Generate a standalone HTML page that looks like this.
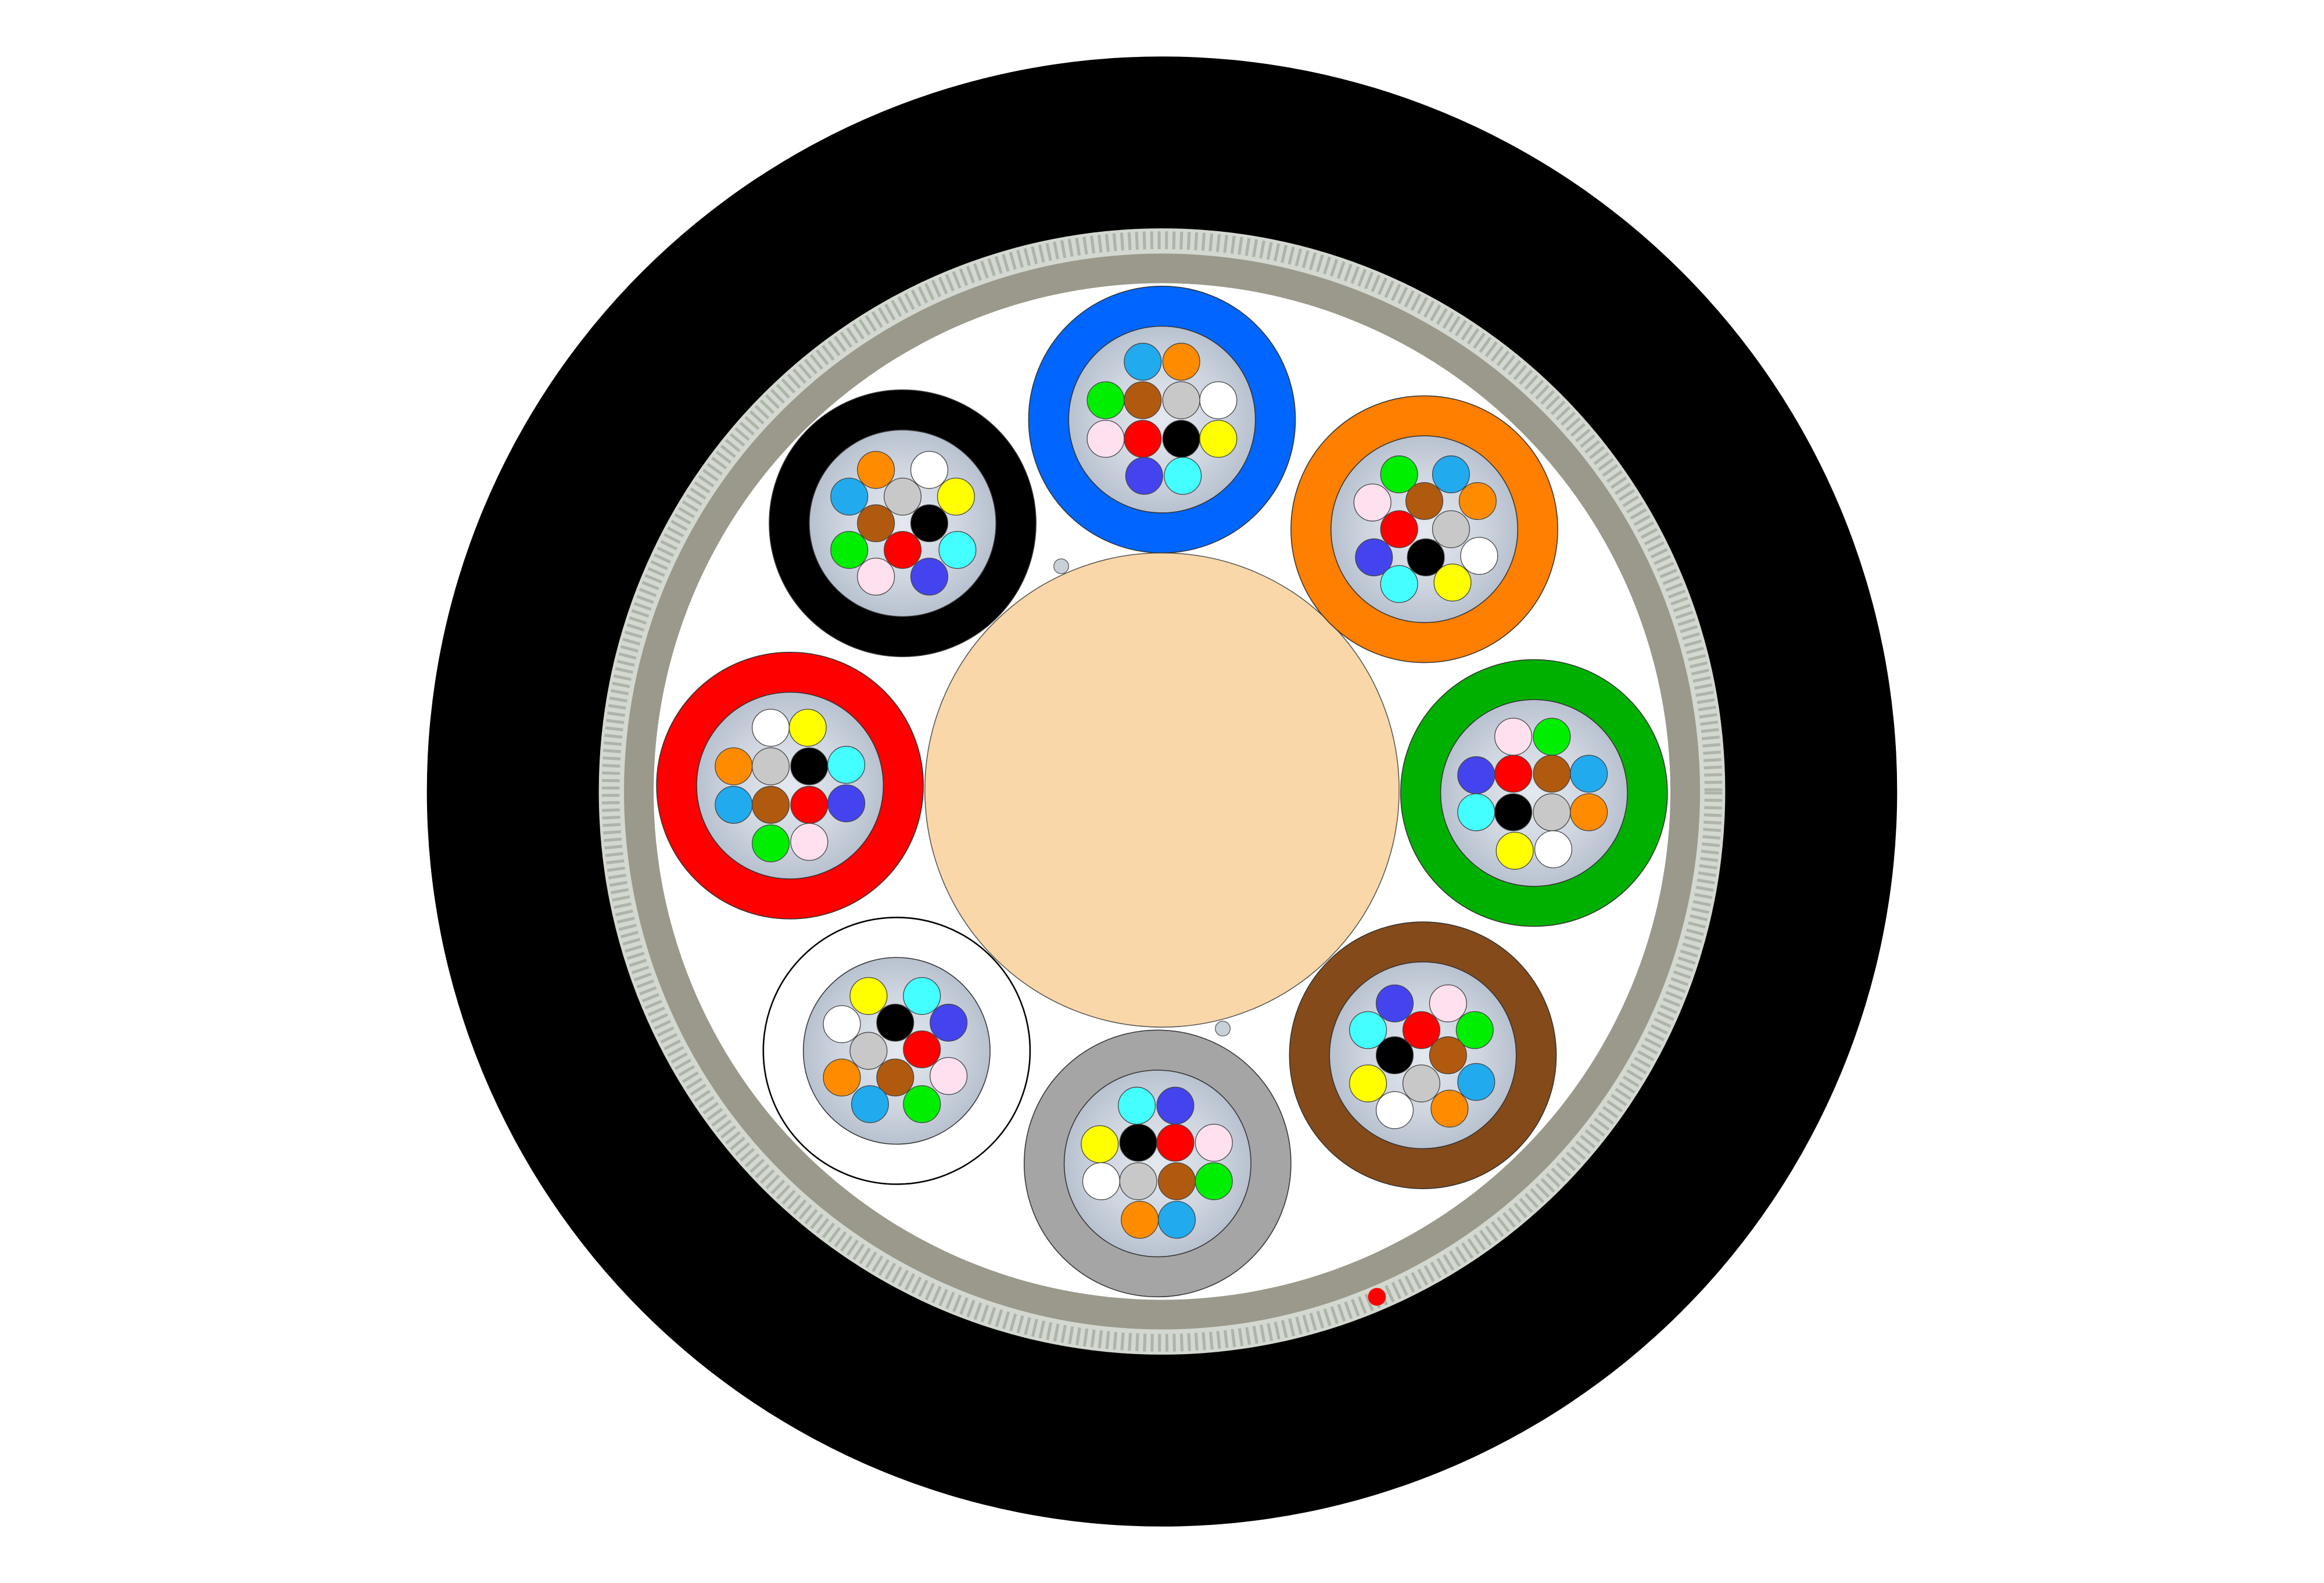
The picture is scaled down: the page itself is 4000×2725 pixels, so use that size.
<!DOCTYPE html>
<html><head><meta charset="utf-8"><style>
html,body{margin:0;padding:0;background:#fff;}
svg{display:block;}
</style></head><body>
<svg width="4000" height="2725" viewBox="0 0 1568 1068" xmlns="http://www.w3.org/2000/svg">
<defs>
<radialGradient id="gel" cx="50%" cy="50%" r="50%">
<stop offset="0" stop-color="#e4e8ef"/><stop offset="0.6" stop-color="#cfd6e0"/><stop offset="1" stop-color="#b8c1cf"/>
</radialGradient>
</defs>
<rect width="1568" height="1068" fill="#fff"/>
<circle cx="784" cy="534" r="496" fill="#000"/>
<circle cx="784" cy="534" r="380" fill="#d3d8d0"/>
<circle cx="784" cy="534" r="372" fill="none" stroke="#aeb4aa" stroke-width="12" stroke-dasharray="2 3"/>
<circle cx="784" cy="534" r="363" fill="#9a998b"/>
<circle cx="784" cy="534" r="343" fill="#fff"/>
<circle cx="784" cy="533" r="160" fill="#f9d7a8" stroke="#555" stroke-width="0.6"/>
<circle cx="716" cy="382" r="5" fill="#c8d0d8" stroke="#555" stroke-width="0.5"/>
<circle cx="825" cy="694" r="5" fill="#c8d0d8" stroke="#555" stroke-width="0.5"/>
<circle cx="929" cy="875" r="6" fill="#f00"/>
<g stroke="#333" stroke-width="0.6">
<circle cx="784" cy="283" r="90" fill="#0066ff"/>
<circle cx="961" cy="357" r="90" fill="#ff7f00"/>
<circle cx="1035" cy="535" r="90" fill="#00b000"/>
<circle cx="960" cy="712" r="90" fill="#844a1a"/>
<circle cx="781" cy="785" r="90" fill="#a5a5a5"/>
<circle cx="605" cy="709" r="90" fill="#fff" stroke="#000" stroke-width="1"/>
<circle cx="533" cy="530" r="90" fill="#ff0000"/>
<circle cx="609" cy="353" r="90" fill="#000"/>
<circle cx="784" cy="283" r="63" fill="url(#gel)"/>
<circle cx="961" cy="357" r="63" fill="url(#gel)"/>
<circle cx="1035" cy="535" r="63" fill="url(#gel)"/>
<circle cx="960" cy="712" r="63" fill="url(#gel)"/>
<circle cx="781" cy="785" r="63" fill="url(#gel)"/>
<circle cx="605" cy="709" r="63" fill="url(#gel)"/>
<circle cx="533" cy="530" r="63" fill="url(#gel)"/>
<circle cx="609" cy="353" r="63" fill="url(#gel)"/>
</g>
<g stroke="#444" stroke-width="0.5">
<circle cx="771" cy="244" r="12.5" fill="#22aaee"/><circle cx="797" cy="244" r="12.5" fill="#ff8c00"/><circle cx="746" cy="270" r="12.5" fill="#00ee00"/><circle cx="771" cy="270" r="12.5" fill="#b05a10"/><circle cx="797" cy="270" r="12.5" fill="#c8c8c8"/><circle cx="822" cy="270" r="12.5" fill="#fff"/><circle cx="746" cy="296" r="12.5" fill="#ffe0ee"/><circle cx="771" cy="296" r="12.5" fill="#ff0000"/><circle cx="797" cy="296" r="12.5" fill="#000"/><circle cx="822" cy="296" r="12.5" fill="#ffff00"/><circle cx="772" cy="321" r="12.5" fill="#4444ee"/><circle cx="798" cy="321" r="12.5" fill="#44ffff"/>
<circle cx="944" cy="320" r="12.5" fill="#00ee00"/><circle cx="979" cy="320" r="12.5" fill="#22aaee"/><circle cx="926" cy="339" r="12.5" fill="#ffe0ee"/><circle cx="961" cy="338" r="12.5" fill="#b05a10"/><circle cx="997" cy="338" r="12.5" fill="#ff8c00"/><circle cx="944" cy="357" r="12.5" fill="#ff0000"/><circle cx="979" cy="357" r="12.5" fill="#c8c8c8"/><circle cx="927" cy="376" r="12.5" fill="#4444ee"/><circle cx="962" cy="376" r="12.5" fill="#000"/><circle cx="998" cy="375" r="12.5" fill="#fff"/><circle cx="944" cy="394" r="12.5" fill="#44ffff"/><circle cx="980" cy="393" r="12.5" fill="#ffff00"/>
<circle cx="1021" cy="497" r="12.5" fill="#ffe0ee"/><circle cx="1047" cy="497" r="12.5" fill="#00ee00"/><circle cx="996" cy="523" r="12.5" fill="#4444ee"/><circle cx="1021" cy="522" r="12.5" fill="#ff0000"/><circle cx="1047" cy="522" r="12.5" fill="#b05a10"/><circle cx="1072" cy="522" r="12.5" fill="#22aaee"/><circle cx="996" cy="548" r="12.5" fill="#44ffff"/><circle cx="1021" cy="548" r="12.5" fill="#000"/><circle cx="1047" cy="548" r="12.5" fill="#c8c8c8"/><circle cx="1072" cy="548" r="12.5" fill="#ff8c00"/><circle cx="1022" cy="574" r="12.5" fill="#ffff00"/><circle cx="1048" cy="573" r="12.5" fill="#fff"/>
<circle cx="941" cy="677" r="12.5" fill="#4444ee"/><circle cx="977" cy="677" r="12.5" fill="#ffe0ee"/><circle cx="923" cy="695" r="12.5" fill="#44ffff"/><circle cx="959" cy="695" r="12.5" fill="#ff0000"/><circle cx="995" cy="695" r="12.5" fill="#00ee00"/><circle cx="941" cy="712" r="12.5" fill="#000"/><circle cx="977" cy="712" r="12.5" fill="#b05a10"/><circle cx="923" cy="731" r="12.5" fill="#ffff00"/><circle cx="959" cy="731" r="12.5" fill="#c8c8c8"/><circle cx="996" cy="730" r="12.5" fill="#22aaee"/><circle cx="941" cy="749" r="12.5" fill="#fff"/><circle cx="978" cy="748" r="12.5" fill="#ff8c00"/>
<circle cx="767" cy="746" r="12.5" fill="#44ffff"/><circle cx="793" cy="746" r="12.5" fill="#4444ee"/><circle cx="742" cy="772" r="12.5" fill="#ffff00"/><circle cx="768" cy="771" r="12.5" fill="#000"/><circle cx="793" cy="771" r="12.5" fill="#ff0000"/><circle cx="819" cy="771" r="12.5" fill="#ffe0ee"/><circle cx="743" cy="797" r="12.5" fill="#fff"/><circle cx="768" cy="797" r="12.5" fill="#c8c8c8"/><circle cx="794" cy="797" r="12.5" fill="#b05a10"/><circle cx="819" cy="797" r="12.5" fill="#00ee00"/><circle cx="769" cy="823" r="12.5" fill="#ff8c00"/><circle cx="794" cy="823" r="12.5" fill="#22aaee"/>
<circle cx="586" cy="672" r="12.5" fill="#ffff00"/><circle cx="622" cy="672" r="12.5" fill="#44ffff"/><circle cx="568" cy="691" r="12.5" fill="#fff"/><circle cx="604" cy="690" r="12.5" fill="#000"/><circle cx="640" cy="690" r="12.5" fill="#4444ee"/><circle cx="586" cy="709" r="12.5" fill="#c8c8c8"/><circle cx="622" cy="708" r="12.5" fill="#ff0000"/><circle cx="568" cy="727" r="12.5" fill="#ff8c00"/><circle cx="604" cy="727" r="12.5" fill="#b05a10"/><circle cx="640" cy="726" r="12.5" fill="#ffe0ee"/><circle cx="587" cy="745" r="12.5" fill="#22aaee"/><circle cx="622" cy="745" r="12.5" fill="#00ee00"/>
<circle cx="520" cy="491" r="12.5" fill="#fff"/><circle cx="545" cy="491" r="12.5" fill="#ffff00"/><circle cx="495" cy="517" r="12.5" fill="#ff8c00"/><circle cx="520" cy="517" r="12.5" fill="#c8c8c8"/><circle cx="546" cy="517" r="12.5" fill="#000"/><circle cx="571" cy="516" r="12.5" fill="#44ffff"/><circle cx="495" cy="543" r="12.5" fill="#22aaee"/><circle cx="520" cy="543" r="12.5" fill="#b05a10"/><circle cx="546" cy="543" r="12.5" fill="#ff0000"/><circle cx="571" cy="542" r="12.5" fill="#4444ee"/><circle cx="520" cy="569" r="12.5" fill="#00ee00"/><circle cx="546" cy="568" r="12.5" fill="#ffe0ee"/>
<circle cx="591" cy="317" r="12.5" fill="#ff8c00"/><circle cx="627" cy="317" r="12.5" fill="#fff"/><circle cx="573" cy="335" r="12.5" fill="#22aaee"/><circle cx="609" cy="335" r="12.5" fill="#c8c8c8"/><circle cx="645" cy="335" r="12.5" fill="#ffff00"/><circle cx="591" cy="353" r="12.5" fill="#b05a10"/><circle cx="627" cy="353" r="12.5" fill="#000"/><circle cx="573" cy="371" r="12.5" fill="#00ee00"/><circle cx="646" cy="371" r="12.5" fill="#44ffff"/><circle cx="609" cy="371" r="12.5" fill="#ff0000"/><circle cx="591" cy="389" r="12.5" fill="#ffe0ee"/><circle cx="627" cy="389" r="12.5" fill="#4444ee"/>
</g>
</svg>
</body></html>
